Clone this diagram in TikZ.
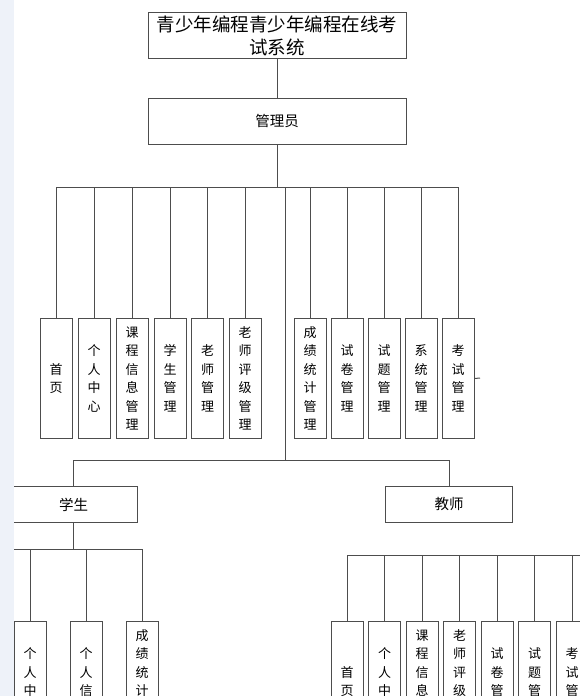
\documentclass[tikz,border=0pt]{standalone}
\usepackage{fontspec}
\setmainfont{Noto Sans CJK SC}
\definecolor{lineGray}{HTML}{4D4D4D}
\definecolor{stripBlue}{HTML}{EEF2F9}

\begin{document}
\begin{tikzpicture}[x=1pt,y=-1pt,
  box/.style={draw=lineGray,line width=1pt,fill=white,inner sep=0pt,align=center},
  wide/.style={box,minimum width=127pt,minimum height=36pt,font=\fontsize{14.5}{17}\selectfont},
  tall/.style={box,anchor=north,minimum width=32pt,minimum height=120pt,font=\fontsize{13}{18.5}\selectfont},
  link/.style={draw=lineGray,line width=1pt}]
  \useasboundingbox (0,0) rectangle (580,696);
  \clip (0,0) rectangle (580,696);

  % system and administrator
  \node[box,minimum width=258pt,minimum height=46pt,font=\fontsize{18.5}{23}\selectfont] (sys) at (277,35.5) {青少年编程青少年编程在线考\\试系统};
  \node[box,minimum width=258pt,minimum height=46pt,font=\fontsize{14.5}{17}\selectfont] (admin) at (277,121) {管理员};

  % administrator functions
  \node[tall] (a1) at (56,318) {首\\页};
  \node[tall] (a2) at (94,318) {个\\人\\中\\心};
  \node[tall] (a3) at (132,318) {课\\程\\信\\息\\管\\理};
  \node[tall] (a4) at (170,318) {学\\生\\管\\理};
  \node[tall] (a5) at (207.5,318) {老\\师\\管\\理};
  \node[tall] (a6) at (245,318) {老\\师\\评\\级\\管\\理};
  \node[tall] (a7) at (310,318) {成\\绩\\统\\计\\管\\理};
  \node[tall] (a8) at (347,318) {试\\卷\\管\\理};
  \node[tall] (a9) at (384,318) {试\\题\\管\\理};
  \node[tall] (a10) at (421,318) {系\\统\\管\\理};
  \node[tall] (a11) at (458,318) {考\\试\\管\\理};

  % student and teacher
  \node[wide] (stu) at (73.5,504.5) {学生};
  \node[wide] (tea) at (449,504.5) {教师};

  % student functions
  \node[tall] (s1) at (30,621) {个\\人\\中\\心};
  \node[tall] (s2) at (86,621) {个\\人\\信\\息};
  \node[tall] (s3) at (142,621) {成\\绩\\统\\计\\管\\理};

  % teacher functions
  \node[tall] (t1) at (347,621) {首\\页};
  \node[tall] (t2) at (384.5,621) {个\\人\\中\\心};
  \node[tall] (t3) at (422,621) {课\\程\\信\\息\\管\\理};
  \node[tall] (t4) at (459.5,621) {老\\师\\评\\级\\管\\理};
  \node[tall] (t5) at (497,621) {试\\卷\\管\\理};
  \node[tall] (t6) at (534.5,621) {试\\题\\管\\理};
  \node[tall] (t7) at (572,621) {考\\试\\管\\理};

  \coordinate (busA) at (0,187);
  \coordinate (hub) at (285,187);
  \coordinate (busB) at (285,460);
  \coordinate (sBus) at (0,549);
  \coordinate (tBus) at (582,555);
  \coordinate (tick) at (480,378);

  \draw[link] (sys) -- (admin);
  \draw[link] (admin.south) -- (admin.south |- busA);
  \draw[link] (a1.north |- busA) -- (a11.north |- busA);
  \foreach \i in {1,...,11} {
    \draw[link] (a\i.north) -- (a\i.north |- busA);
  }
  \draw[link] (a11.east) -- (tick);

  \draw[link] (hub) -- (busB);
  \draw[link] (stu.north) |- (busB);
  \draw[link] (tea.north) |- (busB);

  \draw[link] (stu.south) -- (stu.south |- sBus);
  \draw[link] (sBus) -- (s3.north |- sBus);
  \foreach \i in {1,2,3} {
    \draw[link] (s\i.north) -- (s\i.north |- sBus);
  }

  \draw[link] (t1.north |- tBus) -- (tBus);
  \foreach \i in {1,...,7} {
    \draw[link] (t\i.north) -- (t\i.north |- tBus);
  }

  \fill[stripBlue] (0,0) rectangle (14,696);
\end{tikzpicture}
\end{document}
